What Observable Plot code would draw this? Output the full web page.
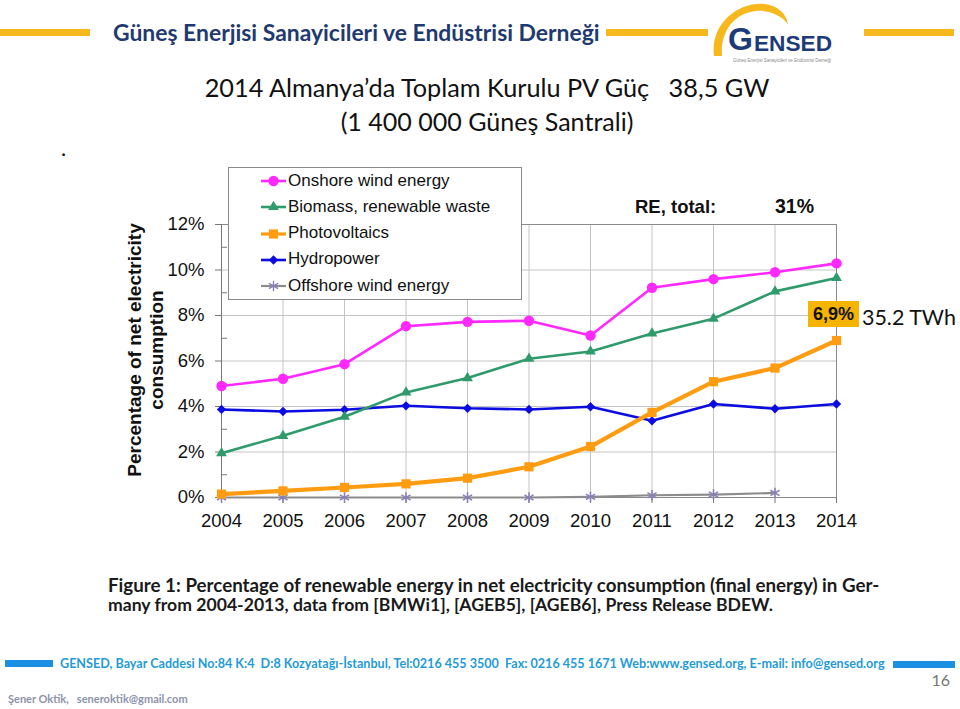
<!DOCTYPE html>
<html><head><meta charset="utf-8">
<script src="https://cdn.jsdelivr.net/npm/d3@7"></script>
<script src="https://cdn.jsdelivr.net/npm/@observablehq/plot@0.6"></script>
<style>
body{margin:0;background:#fff;}
#page{position:relative;width:960px;height:709px;overflow:hidden;background:#fff;}
.abs{position:absolute;white-space:pre;line-height:1;}
#page > svg.plot{position:absolute;left:0;top:0;}
</style></head><body><div id="page"></div>
<script>
// ---------- data ----------
const years = [2004, 2005, 2006, 2007, 2008, 2009, 2010, 2011, 2012, 2013, 2014];
const seriesNames = ["Onshore wind energy", "Biomass, renewable waste", "Photovoltaics", "Hydropower", "Offshore wind energy"];
const onshore      = [4.90, 5.22, 5.86, 7.53, 7.72, 7.77, 7.12, 9.22, 9.60, 9.90, 10.29];
const biomass      = [1.95, 2.71, 3.55, 4.62, 5.25, 6.10, 6.42, 7.21, 7.86, 9.06, 9.65];
const photovoltaics= [0.15, 0.29, 0.44, 0.60, 0.85, 1.35, 2.24, 3.74, 5.09, 5.69, 6.90];
const hydropower   = [3.87, 3.78, 3.86, 4.03, 3.92, 3.87, 3.99, 3.37, 4.11, 3.90, 4.11];
const offshore     = [0, 0, 0, 0, 0, 0, 0.03, 0.10, 0.13, 0.20, null];
const yTicks = [0, 2, 4, 6, 8, 10, 12];
const yMinorTicks = [1, 3, 5, 7, 9, 11];
const reTotalLabel = "RE, total:";
const reTotalValue = "31%";
const pvEnergyNote = "35.2 TWh";
const headerText = "Güneş Enerjisi Sanayicileri ve Endüstrisi Derneği";
const titleLine1 = "2014 Almanya\u2019da Toplam Kurulu PV Güç   38,5 GW";
const titleLine2 = "(1 400 000 Güneş Santrali)";
const yTitleLines = ["Percentage of net electricity", "consumption"];
const captionLine1 = "Figure 1: Percentage of renewable energy in net electricity consumption (final energy) in Ger-";
const captionLine2 = "many from 2004-2013, data from [BMWi1], [AGEB5], [AGEB6], Press Release BDEW.";
const footerText = "GENSED, Bayar Caddesi No:84 K:4  D:8 Kozyatağı-İstanbul, Tel:0216 455 3500  Fax: 0216 455 1671 Web:www.gensed.org, E-mail: info@gensed.org";
const pageNumber = "16";
const authorText = "Şener Oktik,   seneroktik@gmail.com";

// ---------- styles ----------
const seriesValues = [onshore, biomass, photovoltaics, hydropower, offshore];
const seriesStyle = [
  {color: "#ff28ff", symbol: "circle",   r: 5.2, width: 2.6},
  {color: "#2f9a6c", symbol: "triangle", r: 4.0, width: 2.6},
  {color: "#ff9c12", symbol: "square",   r: 5.2, width: 4.2},
  {color: "#0c0ce0", symbol: "diamond2", r: 4.2, width: 2.6},
  {color: "#8c8c8c", symbol: "asterisk", r: 5.0, width: 2.2, markColor: "#8a80b8"}
];
const drawOrder = [4, 3, 1, 0, 2];

const rows = seriesNames.flatMap((name, i) =>
  years.map((year, j) => ({series: name, year, value: seriesValues[i][j]})).filter(d => d.value != null));

const sansFont = "'Liberation Sans', Arial, sans-serif";
const calFont = "Lato, 'Open Sans', sans-serif";

const marks = [
  Plot.gridY(yTicks, {stroke: "#c4c4c4", strokeOpacity: 1}),
  Plot.gridX(years, {stroke: "#c4c4c4", strokeOpacity: 1}),
  Plot.frame({stroke: "#8a8a8a"}),
  Plot.axisY(yTicks, {tickSize: 6, tickPadding: 11, tickFormat: d => d + "%", fontSize: 18.5, stroke: "#777", label: null}),
  Plot.axisY(yMinorTicks, {tickSize: -6, tickPadding: 0, tickFormat: () => "", stroke: "#777", label: null}),
  Plot.axisX(years, {tickSize: 6, tickPadding: 10, tickFormat: d => String(d), fontSize: 18.5, stroke: "#777", label: null}),
  Plot.ruleX([years[0]], {stroke: "#777"}),
  Plot.ruleY([0], {stroke: "#888"})
];
for (const i of drawOrder) {
  const s = seriesStyle[i];
  const data = rows.filter(d => d.series === seriesNames[i]);
  marks.push(Plot.line(data, {x: "year", y: "value", stroke: s.color, strokeWidth: s.width}));
  if (s.symbol === "asterisk") {
    marks.push(Plot.dot(data, {x: "year", y: "value", symbol: s.symbol, r: s.r, stroke: s.markColor, strokeWidth: 1.6, fill: "none"}));
  } else {
    marks.push(Plot.dot(data, {x: "year", y: "value", symbol: s.symbol, r: s.r, fill: s.color, stroke: "none"}));
  }
}

const chart = Plot.plot({
  width: 960, height: 709,
  marginLeft: 221, marginRight: 124, marginTop: 224, marginBottom: 212,
  x: {domain: [years[0], years[years.length - 1]], label: null},
  y: {domain: [0, 12], label: null},
  style: {fontFamily: sansFont, fontSize: "18.5px", color: "#111", background: "transparent", overflow: "visible"},
  marks
});
chart.classList.add("plot");
const page = document.getElementById("page");
page.appendChild(chart);

// ---------- helpers ----------
function addBox(x, y, w, h, color) {
  const d = document.createElement("div");
  d.className = "abs";
  Object.assign(d.style, {left: x + "px", top: y + "px", width: w + "px", height: h + "px", background: color});
  page.appendChild(d);
  return d;
}
function addText(text, opts) {
  const d = document.createElement("div");
  d.className = "abs";
  d.textContent = text;
  Object.assign(d.style, {fontFamily: opts.font, fontWeight: opts.weight || "normal", color: opts.color || "#111", fontSize: (opts.size || 16) + "px"});
  page.appendChild(d);
  if (opts.width) {
    const w = d.getBoundingClientRect().width;
    d.style.fontSize = (opts.size || 16) * opts.width / w + "px";
  }
  const r = d.getBoundingClientRect();
  const fs = parseFloat(d.style.fontSize);
  let left = opts.x;
  if (opts.anchor === "middle") left = opts.x - r.width / 2;
  if (opts.anchor === "end") left = opts.x - r.width;
  d.style.left = left + "px";
  d.style.top = (opts.cy - fs * 0.5) + "px";
  return d;
}

// ---------- header ----------
const gold = "#f6b81c";
addBox(0, 29, 90, 7, gold);
addBox(606, 29, 102, 7, gold);
addBox(864, 29, 90, 7, gold);
addText(headerText, {font: calFont, weight: "bold", color: "#1f3a70", size: 22, width: 487, x: 113, cy: 32});

// logo
const logo = d3.select(page).append("svg").attr("class", "abs")
  .style("left", "706px").style("top", "0px").attr("width", 140).attr("height", 70);
logo.append("path").attr("fill", gold)
  .attr("d", "M8 56 C4 24, 32 2, 58 4 C72 5, 80 14, 82 24 C74 14, 62 10, 50 11 C28 13, 14 32, 16 56 Z");
logo.append("text").attr("x", 22).attr("y", 50).attr("fill", "#1d3b78")
  .attr("font-family", sansFont).attr("font-weight", "bold").attr("font-size", 32).text("G");
logo.append("text").attr("x", 48).attr("y", 51).attr("fill", "#1d3b78")
  .attr("font-family", sansFont).attr("font-weight", "bold").attr("font-size", 22)
  .attr("textLength", 78).attr("lengthAdjust", "spacingAndGlyphs").text("ENSED");
logo.append("text").attr("x", 27).attr("y", 62).attr("fill", "#8a8a8a")
  .attr("font-family", sansFont).attr("font-size", 4.5)
  .attr("textLength", 98).attr("lengthAdjust", "spacingAndGlyphs").text(headerText);

// title
addText(titleLine1, {font: calFont, color: "#111", size: 26, width: 565, x: 487, cy: 88, anchor: "middle"});
addText(titleLine2, {font: calFont, color: "#111", size: 26, width: 293, x: 487, cy: 122, anchor: "middle"});
addText(".", {font: calFont, color: "#111", size: 22, x: 61, cy: 148});

// y title
const yt = document.createElement("div");
yt.className = "abs";
Object.assign(yt.style, {left: (146 - 160) + "px", top: (350 - 22) + "px", width: "320px", height: "44px",
  lineHeight: "22px", textAlign: "center", fontFamily: sansFont, fontWeight: "bold", fontSize: "19px",
  color: "#111", transform: "rotate(-90deg)", transformOrigin: "50% 50%"});
yt.textContent = yTitleLines.join("\n");
page.appendChild(yt);

// legend
const leg = document.createElement("div");
leg.className = "abs";
Object.assign(leg.style, {left: "228px", top: "167px", width: "292px", height: "131px", background: "#fff", border: "1px solid #8a8a8a"});
page.appendChild(leg);
const symTypes = {circle: d3.symbolCircle, triangle: d3.symbolTriangle, square: d3.symbolSquare, diamond2: d3.symbolDiamond2, asterisk: d3.symbolAsterisk};
seriesNames.forEach((name, i) => {
  const s = seriesStyle[i];
  const cy = 13 + 26.3 * i;
  const sv = d3.select(leg).append("svg").style("position", "absolute").style("left", "30px").style("top", (cy - 10) + "px")
    .attr("width", 30).attr("height", 20);
  sv.append("line").attr("x1", 2).attr("x2", 27).attr("y1", 10).attr("y2", 10)
    .attr("stroke", s.color).attr("stroke-width", Math.min(s.width, 3.2));
  const p = d3.symbol().type(symTypes[s.symbol]).size(Math.PI * s.r * s.r)();
  const path = sv.append("path").attr("d", p).attr("transform", "translate(14.5,10)");
  if (s.symbol === "asterisk") path.attr("fill", "none").attr("stroke", s.markColor).attr("stroke-width", 1.4);
  else path.attr("fill", s.color);
  const t = document.createElement("div");
  t.textContent = name;
  Object.assign(t.style, {position: "absolute", left: "59px", top: (cy - 9.5) + "px", fontFamily: sansFont,
    fontSize: "17px", lineHeight: "1", whiteSpace: "pre", color: "#111"});
  leg.appendChild(t);
});

// RE total
addText(reTotalLabel, {font: sansFont, weight: "bold", size: 18.5, x: 635, cy: 207});
addText(reTotalValue, {font: sansFont, weight: "bold", size: 19.5, x: 775, cy: 207});

// 6,9% annotation
const lastPv = photovoltaics[photovoltaics.length - 1];
addBox(808, 301, 51, 26, "#f5b400");
addText(lastPv.toFixed(1).replace(".", ",") + "%", {font: sansFont, weight: "bold", size: 18, x: 833.5, cy: 313.5, anchor: "middle"});
addText(pvEnergyNote, {font: calFont, size: 22, width: 94, x: 862, cy: 318});

// caption
addText(captionLine1, {font: calFont, weight: "bold", color: "#1a1a1a", size: 18, width: 772, x: 108, cy: 585});
addText(captionLine2, {font: calFont, weight: "bold", color: "#1a1a1a", size: 18, width: 665, x: 108, cy: 605});

// footer
addBox(5, 660, 48, 7, "#1b8fe3");
addBox(893, 661, 62, 7, "#1b8fe3");
addText(footerText, {font: calFont, weight: "bold", color: "#1f9bd6", size: 13, width: 826, x: 60, cy: 664});
addText(pageNumber, {font: calFont, color: "#777", size: 16, x: 950, cy: 680, anchor: "end"});
addText(authorText, {font: calFont, weight: "bold", color: "#8d93ad", size: 11, width: 180, x: 8, cy: 699});
</script></body></html>
